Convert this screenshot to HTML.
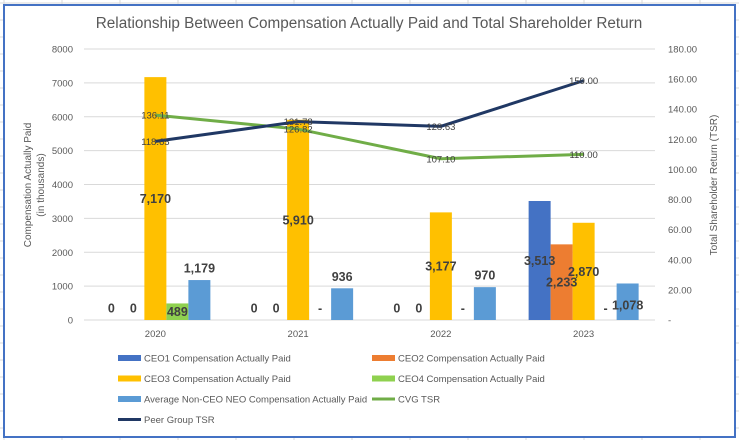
<!DOCTYPE html>
<html><head><meta charset="utf-8"><style>
body{margin:0;width:739px;height:440px;overflow:hidden;background:#fff;font-family:"Liberation Sans",sans-serif}
svg text{font-family:"Liberation Sans",sans-serif}
</style></head><body>
<svg id="c" width="739" height="440" xmlns="http://www.w3.org/2000/svg">
<g id="bggrid"></g>
<rect x="4" y="5" width="731" height="432" fill="#fff" stroke="#4472c4" stroke-width="2"/>
<text x="369" y="28" text-anchor="middle" font-size="15.3" fill="#595959">Relationship Between Compensation Actually Paid and Total Shareholder Return</text>
<g id="plot"></g>
<text transform="rotate(-90)" text-anchor="middle" font-size="10" fill="#595959"><tspan x="-185" y="31">Compensation Actually Paid</tspan><tspan x="-185" y="44">(in thousands)</tspan></text>
<text transform="translate(717,185) rotate(-90)" text-anchor="middle" font-size="10" fill="#595959">Total Shareholder Return (TSR)</text>
<g id="legend"></g>
</svg>
<script>
const categories=["2020","2021","2022","2023"];
const ceo1=[0,0,0,3513];
const ceo2=[0,0,0,2233];
const ceo3=[7170,5910,3177,2870];
const ceo4=[489,null,null,null];
const avgNeo=[1179,936,970,1078];
const cvgTsr=[136.11,126.82,107.10,110.00];
const peerTsr=[118.65,131.78,128.63,159.00];
const leftTicks=[0,1000,2000,3000,4000,5000,6000,7000,8000];
const rightTicks=[0,20,40,60,80,100,120,140,160,180];

const NS="http://www.w3.org/2000/svg";
const svg=document.getElementById('c');
function el(t,a,p){const e=document.createElementNS(NS,t);for(const k in a)e.setAttribute(k,a[k]);(p||svg).appendChild(e);return e;}
const X0=84,X1=655,Y0=320,Y1=49;
const catW=(X1-X0)/categories.length;
const yL=v=>Y0-(v/8000)*(Y0-Y1);
const yR=v=>Y0-(v/180)*(Y0-Y1);
const xC=i=>X0+catW*(i+0.5);
const plot=document.getElementById('plot');

const bg=document.getElementById('bggrid');
for(let x=4;x<739;x+=58){el('line',{x1:x,y1:0,x2:x,y2:440,stroke:'#d9d9d9','stroke-width':1},bg);}
for(let y=3;y<440;y+=17){el('line',{x1:0,y1:y,x2:739,y2:y,stroke:'#d9d9d9','stroke-width':1},bg);}

leftTicks.forEach(v=>{
  const g=el('line',{x1:X0,x2:X1,y1:yL(v),y2:yL(v),stroke:'#d9d9d9','stroke-width':1},plot);
  
  
  const t=el('text',{x:73,y:yL(v)+3.5,'text-anchor':'end','font-size':9.5,fill:'#595959'},plot);
  t.textContent=v;
  
  
});
rightTicks.forEach(v=>{
  const t=el('text',{x:668,y:yR(v)+3.5,'font-size':9.5,fill:'#595959'},plot);
  t.textContent=v===0?'-':v.toFixed(2);
  
  
});
categories.forEach((c,i)=>{
  const t=el('text',{x:xC(i),y:337,'text-anchor':'middle','font-size':9.5,fill:'#595959'},plot);
  t.textContent=c;
  
  
});
const series=[[ceo1,'#4472c4','ceo1'],[ceo2,'#ed7d31','ceo2'],[ceo3,'#ffc000','ceo3'],[ceo4,'#8fd14f','ceo4'],[avgNeo,'#5b9bd5','avg-neo']];
const bw=22;
const fmt=v=>v.toLocaleString('en-US');
const barG=el('g',{},plot);
const lblG=el('g',{},plot);
series.forEach((s,si)=>{
  s[0].forEach((v,i)=>{
    const x=xC(i)+(si-2.5)*bw;
    if(v!=null&&v>0){
      const r=el('rect',{x:x,y:yL(v),width:bw,height:Y0-yL(v),fill:s[1]},barG);
      
      
    }
    let ly,txt,lx=x+bw/2;
    if(v==null){txt='-';ly=Y0-12;}
    else if(v===0){txt='0';ly=Y0-12;}
    else if(si===4){txt=fmt(v);ly=(i===categories.length-1)?Y0-15:yL(v)-12;}
    else{txt=fmt(v);ly=(yL(v)+Y0)/2;}
    const t=el('text',{x:lx,y:ly+4.5,'text-anchor':'middle','font-size':12.5,'font-weight':'bold',fill:'#404040'},lblG);
    t.textContent=txt;
    
    
  });
});
[[cvgTsr,'#70ad47','cvg-tsr'],[peerTsr,'#203864','peer-tsr']].forEach(s=>{
  const p=el('polyline',{points:s[0].map((v,i)=>xC(i)+','+yR(v)).join(' '),fill:'none',stroke:s[1],'stroke-width':3},plot);
  
  
});
[cvgTsr,peerTsr].forEach(s=>s.forEach((v,i)=>{
  const t=el('text',{x:xC(i),y:yR(v)+3.5,'text-anchor':'middle','font-size':9.5,fill:'#404040'},plot);
  t.textContent=v.toFixed(2);
  
  
}));

const leg=document.getElementById('legend');
const items=[['CEO1 Compensation Actually Paid','#4472c4','bar'],['CEO2 Compensation Actually Paid','#ed7d31','bar'],['CEO3 Compensation Actually Paid','#ffc000','bar'],['CEO4 Compensation Actually Paid','#8fd14f','bar'],['Average Non-CEO NEO Compensation Actually Paid','#5b9bd5','bar'],['CVG TSR','#70ad47','line'],['Peer Group TSR','#203864','line']];
items.forEach((it,i)=>{
  const col=i%2,row=Math.floor(i/2);
  const x=col?372:118,y=358+row*20.5;
  const g=el('g',{},leg);
  
  
  if(it[2]==='bar')el('rect',{x:x,y:y-3,width:23,height:6,fill:it[1]},g);
  else el('line',{x1:x,y1:y,x2:x+23,y2:y,stroke:it[1],'stroke-width':3},g);
  const t=el('text',{x:x+26,y:y+3.5,'font-size':9.5,fill:'#595959'},g);
  t.textContent=it[0];
});
</script>
</body></html>
